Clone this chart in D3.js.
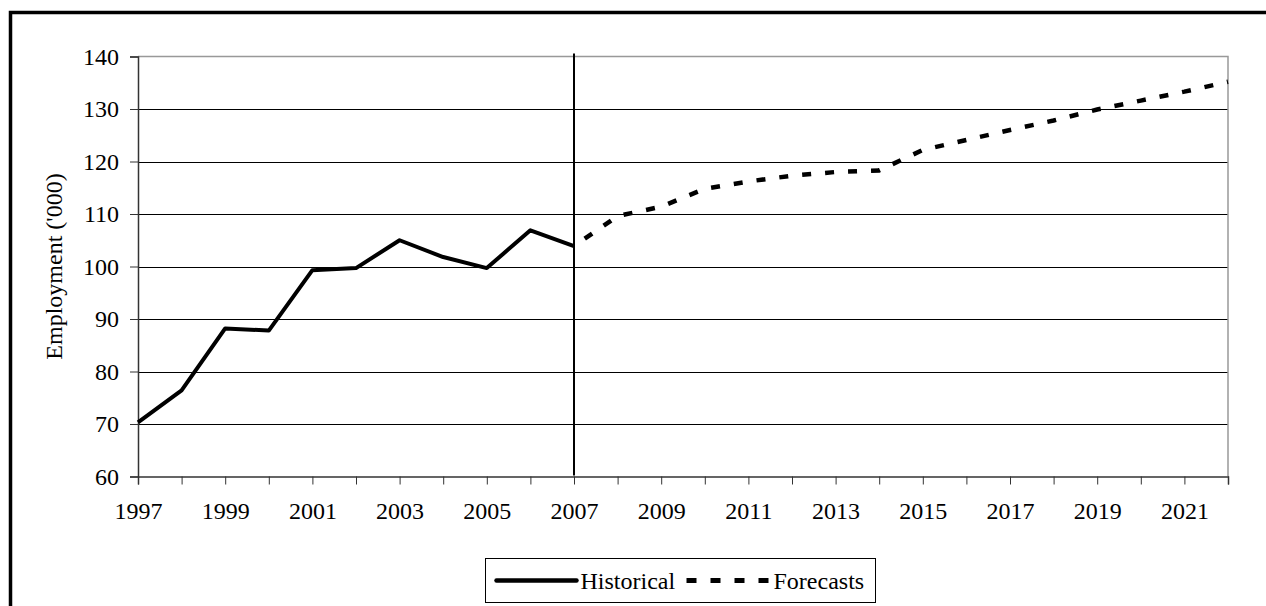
<!DOCTYPE html>
<meta charset="utf-8">

<head>
  <title>Employment forecast</title>
</head>

<style>
  body { margin: 0; background: #fff; }
  text { font-family: "Liberation Serif", "Times New Roman", serif; fill: #000; }
</style>

<body>
  <svg width="1266" height="606">
    <g></g>
  </svg>

  <script src="https://cdn.jsdelivr.net/npm/d3@7"></script>
  <script>
    var histYears = [1997, 1998, 1999, 2000, 2001, 2002, 2003, 2004, 2005, 2006, 2007];
    var histValues = [70.3, 76.4, 88.2, 87.8, 99.3, 99.7, 105.0, 101.8, 99.7, 106.9, 103.9];

    var foreYears = [2007, 2008, 2009, 2010, 2011, 2012, 2013, 2014, 2015, 2016, 2017, 2018, 2019, 2020, 2021, 2022];
    var foreValues = [103.9, 109.6, 111.4, 114.8, 116.2, 117.3, 118.0, 118.3, 122.2, 124.1, 126.0, 127.8, 129.9, 131.6, 133.3, 135.2];

    var yTicks = [60, 70, 80, 90, 100, 110, 120, 130, 140];
    var xLabels = [1997, 1999, 2001, 2003, 2005, 2007, 2009, 2011, 2013, 2015, 2017, 2019, 2021];
    var splitYear = 2007;
    var seriesNames = ['Historical', 'Forecasts'];

    var svg = d3.select('svg');
    var fontSize = 24;

    // outer chart frame (runs off the right and bottom edges)
    svg.append('rect')
      .attr('x', 10.5).attr('y', 12.5)
      .attr('width', 1270).attr('height', 610)
      .attr('fill', 'none')
      .attr('stroke', '#000')
      .attr('stroke-width', 3.5)

    var plotLeft = 138, plotTop = 56.5, plotRight = 1228, plotBottom = 476.5;

    var xScale = d3.scaleLinear().domain([1997, 2022]).range([plotLeft, plotRight]);
    var yScale = d3.scaleLinear().domain([60, 140]).range([plotBottom, plotTop]);

    var scene = d3.select('g');

    // gridlines
    scene.append('g')
      .selectAll('line')
      .data(yTicks.filter(d => d > 60 && d < 140))
      .enter()
      .append('line')
      .attr('x1', plotLeft).attr('x2', plotRight)
      .attr('y1', d => Math.round(yScale(d)) + 0.5)
      .attr('y2', d => Math.round(yScale(d)) + 0.5)
      .attr('stroke', '#000')
      .attr('stroke-width', 1)

    // plot area top / right border
    scene.append('path')
      .attr('d', 'M' + plotLeft + ',' + plotTop + 'H' + plotRight + 'V' + plotBottom)
      .attr('fill', 'none')
      .attr('stroke', '#999')
      .attr('stroke-width', 1.5)

    // y axis
    var yAxis = scene.append('g')
      .attr('transform', 'translate(' + plotLeft + ',0)')
      .call(d3.axisLeft(yScale).tickValues(yTicks).tickSize(8).tickPadding(11))
    yAxis.select('.domain').attr('stroke', '#333').attr('stroke-width', 1.5)
    yAxis.selectAll('.tick line').attr('stroke', '#333')
    yAxis.selectAll('text')
      .style('font-size', fontSize + 'px')
      .style('font-family', '"Liberation Serif", serif')

    // x axis, a tick every year, labels every other year
    var xAxis = scene.append('g')
      .attr('transform', 'translate(0,' + plotBottom + ')')
      .call(d3.axisBottom(xScale)
        .tickValues(d3.range(1997, 2023))
        .tickSize(8)
        .tickPadding(17)
        .tickFormat(d => xLabels.indexOf(d) >= 0 ? d : ''))
    xAxis.select('.domain').attr('stroke', '#333').attr('stroke-width', 1.5)
    xAxis.selectAll('.tick line').attr('stroke', '#333')
    xAxis.selectAll('text')
      .style('font-size', fontSize + 'px')
      .style('font-family', '"Liberation Serif", serif')

    // y axis title
    svg.append('text')
      .attr('transform', 'translate(62,' + ((plotTop + plotBottom) / 2) + ') rotate(-90)')
      .attr('text-anchor', 'middle')
      .style('font-size', fontSize + 'px')
      .text("Employment ('000)")

    // split marker
    scene.append('line')
      .attr('x1', xScale(splitYear)).attr('x2', xScale(splitYear))
      .attr('y1', plotTop - 3).attr('y2', plotBottom - 1)
      .attr('stroke', '#000')
      .attr('stroke-width', 2)

    var line = d3.line()
      .x(d => xScale(d[0]))
      .y(d => yScale(d[1]));

    scene.append('path')
      .datum(histYears.map((y, i) => [y, histValues[i]]))
      .attr('d', line)
      .attr('fill', 'none')
      .attr('stroke', '#000')
      .attr('stroke-width', 4)
      .attr('stroke-linejoin', 'round')

    scene.append('path')
      .datum(foreYears.map((y, i) => [y, foreValues[i]]))
      .attr('d', line)
      .attr('fill', 'none')
      .attr('stroke', '#000')
      .attr('stroke-width', 4.5)
      .attr('stroke-dasharray', '9,14')
      .attr('stroke-dashoffset', 10)

    // legend
    var legend = svg.append('g').attr('transform', 'translate(485.5,558.5)')
    legend.append('rect')
      .attr('width', 390).attr('height', 44)
      .attr('fill', '#fff')
      .attr('stroke', '#000')
      .attr('stroke-width', 1)
    legend.append('line')
      .attr('x1', 11).attr('x2', 91).attr('y1', 22).attr('y2', 22)
      .attr('stroke', '#000').attr('stroke-width', 4.5)
      .attr('stroke-linecap', 'round')
    legend.append('text')
      .attr('x', 95).attr('y', 22).attr('dy', '0.35em')
      .style('font-size', fontSize + 'px')
      .text(seriesNames[0])
    legend.append('line')
      .attr('x1', 201).attr('x2', 284).attr('y1', 22).attr('y2', 22)
      .attr('stroke', '#000').attr('stroke-width', 5)
      .attr('stroke-dasharray', '10,14')
    legend.append('text')
      .attr('x', 288).attr('y', 22).attr('dy', '0.35em')
      .style('font-size', fontSize + 'px')
      .text(seriesNames[1])
  </script>
</body>

</html>
